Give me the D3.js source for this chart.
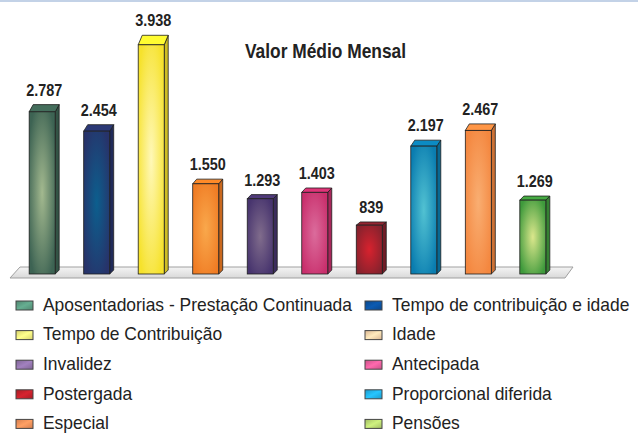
<!DOCTYPE html>
<html>
<head>
<meta charset="utf-8">
<script src="https://cdn.jsdelivr.net/npm/d3@7"></script>
<style>
  body { margin: 0; background: #fff; }
  svg { display: block; }
  text { font-family: "Liberation Sans Narrow", "Liberation Sans", Arial, sans-serif; fill: #222; }
</style>
</head>
<body>
<div id="chart"></div>
<script>
// data
var categories = ["Aposentadorias - Prestação Continuada", "Tempo de contribuição e idade",
  "Tempo de Contribuição", "Idade", "Invalidez", "Antecipada", "Postergada",
  "Proporcional diferida", "Especial", "Pensões"];
var values = [2787, 2454, 3938, 1550, 1293, 1403, 839, 2197, 2467, 1269];
// bar colours: [edge, centre]
var barEdge = ["#3d6353", "#27336a", "#f6e22c", "#f07c24", "#47346e", "#c92f6c", "#86222d", "#0a7db0", "#f4873f", "#3f9a3c"];
var barCenter = ["#a3b98f", "#0c5f8e", "#fff8b8", "#f9a84c", "#806c8c", "#db6c9c", "#d8222e", "#52c2d2", "#f9ae72", "#dbe78c"];
var swatch = ["#5c9c82", "#0b52a0", "#f8f27e", "#fbd2aa", "#9274ac", "#e85e9c", "#c1202a", "#22b2ea", "#f5905a", "#bad972"];
var title = "Valor Médio Mensal";

var W = 638, H = 435;
var baseY = 274, topY = 41.2;
var depthX = 4;

var locale = d3.formatLocale({ decimal: ",", thousands: ".", grouping: [3], currency: ["R$", ""] });
var fmt = locale.format(",d");

var svg = d3.select("#chart").append("svg").attr("width", W).attr("height", H);
var defs = svg.append("defs");

// thin blue line at the top
svg.append("rect").attr("x", 0).attr("y", 0).attr("width", W).attr("height", 2).attr("fill", "#c3d2e7");

var x = d3.scaleBand().domain(categories).range([15, 560]).paddingInner(0.523).paddingOuter(0.26);
var y = d3.scaleLinear().domain([0, 4000]).range([baseY, topY]);

// floor
var floorGrad = defs.append("linearGradient").attr("id", "floorG").attr("x1", 0).attr("y1", 0).attr("x2", 0).attr("y2", 1);
floorGrad.append("stop").attr("offset", "0%").attr("stop-color", "#f4f4f4");
floorGrad.append("stop").attr("offset", "100%").attr("stop-color", "#d9d9d9");
svg.append("path")
  .attr("d", "M20,267L573,267L565,278L10,278Z")
  .attr("fill", "url(#floorG)").attr("stroke", "#a0a0a0").attr("stroke-width", 1);

// gradients for bar fronts
categories.forEach(function (c, i) {
  var g = defs.append("radialGradient").attr("id", "bar" + i)
    .attr("cx", "50%").attr("cy", "50%").attr("r", "60%");
  g.append("stop").attr("offset", "0%").attr("stop-color", barCenter[i]);
  g.append("stop").attr("offset", "100%").attr("stop-color", barEdge[i]);
  var s = defs.append("linearGradient").attr("id", "sw" + i).attr("x1", 0).attr("y1", 0).attr("x2", 1).attr("y2", 1);
  s.append("stop").attr("offset", "0%").attr("stop-color", d3.color(swatch[i]).darker(0.4));
  s.append("stop").attr("offset", "50%").attr("stop-color", d3.color(swatch[i]).brighter(0.3));
  s.append("stop").attr("offset", "100%").attr("stop-color", d3.color(swatch[i]).darker(0.4));
});

var bars = svg.append("g").selectAll("g").data(values).join("g");

function geo(d, i) {
  var x0 = x(categories[i]), x1 = x0 + x.bandwidth();
  var yt = y(d), h = baseY - yt;
  var dy = 1.5 + h * 0.035;
  return { x0: x0, x1: x1, yt: yt, dy: dy };
}

// side face
bars.append("path")
  .attr("d", function (d, i) {
    var g = geo(d, i);
    return "M" + g.x1 + "," + g.yt + "L" + (g.x1 + depthX) + "," + (g.yt - g.dy) +
      "L" + (g.x1 + depthX) + "," + (baseY - 4) + "L" + g.x1 + "," + baseY + "Z";
  })
  .attr("fill", function (d, i) { return d3.color(barEdge[i]).darker(0.5); })
  .attr("stroke", "#1e1e1e").attr("stroke-width", 0.8).attr("stroke-linejoin", "round");

// top face
bars.append("path")
  .attr("d", function (d, i) {
    var g = geo(d, i);
    return "M" + g.x0 + "," + g.yt + "L" + (g.x0 + depthX) + "," + (g.yt - g.dy) +
      "L" + (g.x1 + depthX) + "," + (g.yt - g.dy) + "L" + g.x1 + "," + g.yt + "Z";
  })
  .attr("fill", function (d, i) { return d3.color(barEdge[i]).brighter(0.3); })
  .attr("stroke", "#1e1e1e").attr("stroke-width", 0.8).attr("stroke-linejoin", "round");

// front face
bars.append("rect")
  .attr("x", function (d, i) { return x(categories[i]); })
  .attr("y", function (d) { return y(d); })
  .attr("width", x.bandwidth())
  .attr("height", function (d) { return baseY - y(d); })
  .attr("fill", function (d, i) { return "url(#bar" + i + ")"; })
  .attr("stroke", "#1e1e1e").attr("stroke-width", 0.8);

// value labels
var labels = bars.append("text")
  .attr("x", function (d, i) { return x(categories[i]) + x.bandwidth() / 2 + depthX / 2; })
  .attr("y", function (d, i) { var g = geo(d, i); return g.yt - g.dy - 9; })
  .attr("text-anchor", "middle")
  .attr("font-size", "16px").attr("font-weight", "bold")
  .text(function (d) { return fmt(d); });

var lblFactor = 36 / labels.nodes()[0].getComputedTextLength();
labels.each(function () {
  this.setAttribute("textLength", this.getComputedTextLength() * lblFactor);
  this.setAttribute("lengthAdjust", "spacingAndGlyphs");
});

// title
svg.append("text")
  .attr("x", 245).attr("y", 58.3)
  .attr("font-size", "20.5px").attr("font-weight", "bold")
  .attr("textLength", 161).attr("lengthAdjust", "spacingAndGlyphs")
  .text(title);

// legend, two columns, row-major
var legend = svg.append("g").selectAll("g").data(categories).join("g")
  .attr("transform", function (d, i) {
    var col = i % 2, row = Math.floor(i / 2);
    return "translate(" + (col === 0 ? 16 : 365) + "," + (301 + row * 29.6) + ")";
  });
legend.append("rect")
  .attr("width", 17).attr("height", 9)
  .attr("fill", function (d, i) { return "url(#sw" + i + ")"; })
  .attr("stroke", "#444").attr("stroke-width", 1);
var legTexts = legend.append("text")
  .attr("x", 27).attr("y", 9.8)
  .attr("font-size", "18.5px")
  .text(function (d) { return d; });
var legFactor = 309 / legTexts.nodes()[0].getComputedTextLength();
legTexts.each(function () {
  this.setAttribute("textLength", this.getComputedTextLength() * legFactor);
  this.setAttribute("lengthAdjust", "spacingAndGlyphs");
});
</script>
</body>
</html>
